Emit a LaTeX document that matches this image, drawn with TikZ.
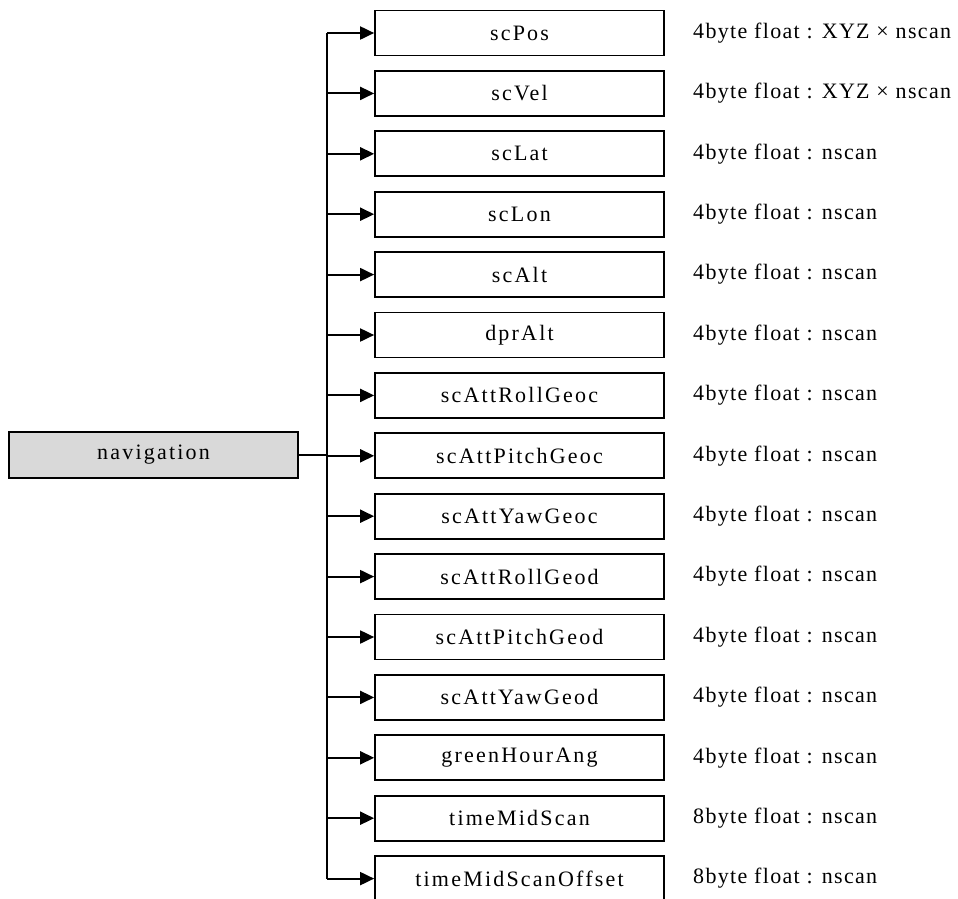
\documentclass[tikz,border=0pt]{standalone}
\usepackage{fontspec}
\setmainfont{Liberation Serif}
\newfontfamily\boxfont{Liberation Serif}[LetterSpace=10]
\newfontfamily\notefont{Liberation Serif}[LetterSpace=6]
\usetikzlibrary{arrows.meta}
\begin{document}
\begin{tikzpicture}[x=1pt,y=-1pt,
  field/.style={draw=black,line width=1.7pt,minimum width=289pt,minimum height=45pt,
    inner sep=0pt,font=\boxfont\fontsize{22}{25}\selectfont},
  rootbox/.style={field,fill=black!15},
  note/.style={anchor=west,inner sep=0pt,font=\notefont\fontsize{22}{25}\selectfont},
  link/.style={line width=1.9pt},
  arr/.style={link,-{Triangle[length=14pt,width=13pt]}}]
\useasboundingbox (0,0) rectangle (958,898);

% root node
\node[rootbox,minimum height=46pt] (nav) at (153.5,455) {navigation};

% child fields with their storage formats
\foreach \name/\fmt [count=\i from 0] in {
  scPos/{4byte float : XYZ × nscan},
  scVel/{4byte float : XYZ × nscan},
  scLat/{4byte float : nscan},
  scLon/{4byte float : nscan},
  scAlt/{4byte float : nscan},
  dprAlt/{4byte float : nscan},
  scAttRollGeoc/{4byte float : nscan},
  scAttPitchGeoc/{4byte float : nscan},
  scAttYawGeoc/{4byte float : nscan},
  scAttRollGeod/{4byte float : nscan},
  scAttPitchGeod/{4byte float : nscan},
  scAttYawGeod/{4byte float : nscan},
  greenHourAng/{4byte float : nscan},
  timeMidScan/{8byte float : nscan},
  timeMidScanOffset/{8byte float : nscan}}{
  \pgfmathsetmacro{\yy}{33+\i*60.4}
  \node[field] (b\i) at (519.5,\yy) {\name};
  \node[note] (f\i) at (693,\yy) {\fmt};
  \coordinate (j\i) at (327,\yy);
  \draw[arr] (j\i) -- (b\i.west);
}

% trunk and the link from the root
\draw[link] (j0) -- (j14);
\draw[link,line width=2.2pt] (nav.east) -- (nav.east -| j0);
\end{tikzpicture}
\end{document}
